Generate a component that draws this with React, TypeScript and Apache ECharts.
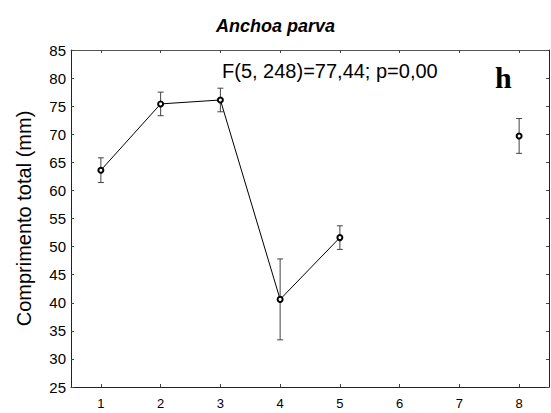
import React, { useEffect, useRef } from "react";
import * as echarts from "echarts";

const groups = [1, 2, 3, 4, 5, 8];
const means = [63.6, 75.4, 76.1, 40.6, 51.6, 69.7];
const errors = [2.2, 2.1, 2.1, 7.2, 2.1, 3.1];
const connected = [true, true, true, true, true, false];
const xTickLabels = [1, 2, 3, 4, 5, 6, 7, 8];
const titleText = "Anchoa parva";
const yTitle = "Comprimento total (mm)";
const statText = "F(5, 248)=77,44; p=0,00";
const panelLetter = "h";

export default function App() {
  const ref = useRef<HTMLDivElement>(null);
  useEffect(() => {
    if (!ref.current) return;
    const chart = echarts.init(ref.current, null, { renderer: "svg" });
    const font = "'Liberation Sans', Arial, Helvetica, sans-serif";
    const lineData = groups.map((g, i) => (connected[i] ? [g, means[i]] : null)).filter(Boolean);
    const soloData = groups.map((g, i) => (!connected[i] ? [g, means[i]] : null)).filter(Boolean);
    const errData = groups.map((g, i) => [g, means[i] - errors[i], means[i] + errors[i]]);
    const axisLineStyle = { color: "#222", width: 1 };
    const markerStyle = { color: "#000", borderColor: "#000", borderWidth: 3.5 };
    chart.setOption({
      animation: false,
      backgroundColor: "#fff",
      title: {
        text: titleText,
        left: "center",
        top: 12,
        textStyle: { fontFamily: font, fontStyle: "italic", fontWeight: "bold", fontSize: 18, color: "#000" },
      },
      grid: { left: 71, right: 2, top: 50, bottom: 26, containLabel: false },
      xAxis: [
        {
          type: "value",
          min: 0.5,
          max: 8.5,
          position: "bottom",
          axisLine: { show: true, lineStyle: axisLineStyle },
          axisTick: { show: true, inside: true, length: 3, customValues: xTickLabels, lineStyle: { color: "#444" } },
          axisLabel: { customValues: xTickLabels, fontFamily: font, fontSize: 13, color: "#000", margin: 10 },
          splitLine: { show: false },
        },
        {
          type: "value",
          min: 0.5,
          max: 8.5,
          position: "top",
          axisLine: { show: true, lineStyle: { color: "#555", width: 1 } },
          axisTick: { show: true, inside: true, length: 3, customValues: xTickLabels, lineStyle: { color: "#444" } },
          axisLabel: { show: false },
          splitLine: { show: false },
        },
      ],
      yAxis: [
        {
          type: "value",
          min: 25,
          max: 85,
          interval: 5,
          name: yTitle,
          nameLocation: "middle",
          nameGap: 37,
          nameTextStyle: { fontFamily: font, fontSize: 20, color: "#000" },
          axisLine: { show: true, lineStyle: axisLineStyle },
          axisTick: { show: true, inside: true, length: 3, lineStyle: { color: "#444" } },
          axisLabel: { fontFamily: font, fontSize: 15, color: "#000", margin: 5 },
          splitLine: { show: false },
        },
        {
          type: "value",
          min: 25,
          max: 85,
          interval: 5,
          position: "right",
          axisLine: { show: true, lineStyle: axisLineStyle },
          axisTick: { show: true, inside: true, length: 3, lineStyle: { color: "#444" } },
          axisLabel: { show: false },
          splitLine: { show: false },
        },
      ],
      series: [
        {
          type: "custom",
          xAxisIndex: 0,
          yAxisIndex: 0,
          data: errData,
          renderItem: (params: any, api: any) => {
            const x = api.value(0);
            const lo = api.coord([x, api.value(1)]);
            const hi = api.coord([x, api.value(2)]);
            const w = 3;
            const style = { stroke: "#444", lineWidth: 1 };
            return {
              type: "group",
              children: [
                { type: "line", shape: { x1: lo[0], y1: lo[1], x2: hi[0], y2: hi[1] }, style },
                { type: "line", shape: { x1: hi[0] - w, y1: hi[1], x2: hi[0] + w, y2: hi[1] }, style },
                { type: "line", shape: { x1: lo[0] - w, y1: lo[1], x2: lo[0] + w, y2: lo[1] }, style },
              ],
            };
          },
          z: 2,
        },
        {
          type: "line",
          data: lineData,
          symbol: "emptyCircle",
          symbolSize: 5,
          showSymbol: true,
          lineStyle: { color: "#000", width: 1 },
          itemStyle: markerStyle,
          z: 3,
        },
        {
          type: "line",
          data: soloData,
          symbol: "emptyCircle",
          symbolSize: 5,
          lineStyle: { width: 0 },
          itemStyle: markerStyle,
          z: 3,
        },
      ],
      graphic: [
        {
          type: "text",
          left: 222,
          top: 61,
          style: { text: statText, fontFamily: font, fontSize: 20, fill: "#000" },
        },
        {
          type: "text",
          left: 495,
          top: 62,
          style: { text: panelLetter, fontFamily: "'Liberation Serif', 'Times New Roman', serif", fontWeight: "bold", fontSize: 30, fill: "#000" },
        },
      ],
    });
    return () => chart.dispose();
  }, []);
  return <div ref={ref} style={{ position: "fixed", left: 0, top: 0, width: 551, height: 413 }} />;
}
